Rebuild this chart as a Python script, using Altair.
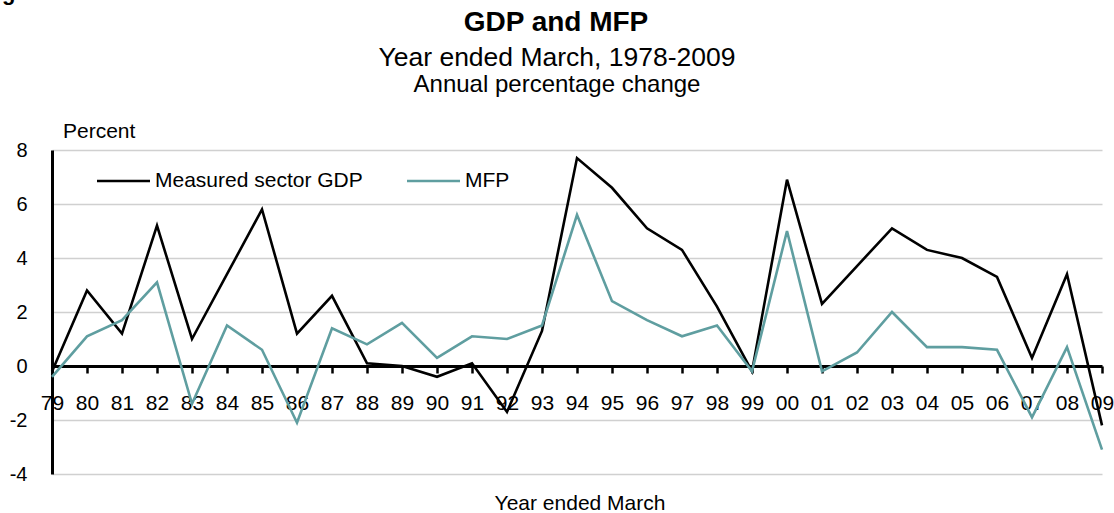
import altair as alt
import pandas as pd

FONT = "Liberation Sans"

# Year ended March, two-digit labels
year_labels = ["79", "80", "81", "82", "83", "84", "85", "86", "87", "88",
               "89", "90", "91", "92", "93", "94", "95", "96", "97", "98",
               "99", "00", "01", "02", "03", "04", "05", "06", "07", "08", "09"]

# Annual percentage change
gdp = [-0.2, 2.8, 1.2, 5.2, 1.0, 3.4, 5.8, 1.2, 2.6, 0.1,
       0.0, -0.4, 0.1, -1.7, 1.3, 7.7, 6.6, 5.1, 4.3, 2.2,
       -0.2, 6.9, 2.3, 3.7, 5.1, 4.3, 4.0, 3.3, 0.3, 3.4, -2.2]
mfp = [-0.4, 1.1, 1.7, 3.1, -1.4, 1.5, 0.6, -2.1, 1.4, 0.8,
       1.6, 0.3, 1.1, 1.0, 1.5, 5.6, 2.4, 1.7, 1.1, 1.5,
       -0.2, 5.0, -0.2, 0.5, 2.0, 0.7, 0.7, 0.6, -1.9, 0.7, -3.1]

series_names = ["Measured sector GDP", "MFP"]
series_colors = ["#000000", "#5f9ea0"]

title_text = "GDP and MFP"
subtitle_text = "Year ended March, 1978-2009"
subtitle2_text = "Annual percentage change"
y_unit_text = "Percent"
x_title_text = "Year ended March"

df = pd.DataFrame({
    "year": year_labels * 2,
    "series": [series_names[0]] * len(gdp) + [series_names[1]] * len(mfp),
    "value": gdp + mfp,
})

x_enc = alt.X(
    "year:O",
    sort=year_labels,
    scale=alt.Scale(type="point", padding=0),
    axis=alt.Axis(
        title=None, offset=-108, labelAngle=0, grid=False,
        domainColor="black", domainWidth=3,
        tickColor="black", tickWidth=2.5, tickSize=7,
        labelFont=FONT, labelFontSize=21, labelColor="black",
        labelPadding=19, labelOverlap=False,
    ),
)
y_enc = alt.Y(
    "value:Q",
    scale=alt.Scale(domain=[-4, 8], nice=False, zero=False),
    axis=alt.Axis(
        title=None, values=[-4, -2, 0, 2, 4, 6, 8],
        labelExpr="'' + datum.value",
        domainColor="black", domainWidth=3,
        ticks=False, tickSize=0, labelPadding=25,
        labelFont=FONT, labelFontSize=20, labelColor="black",
        gridColor="#d0d0d0", gridWidth=1.5,
    ),
)

lines = []
for name, color in zip(series_names, series_colors):
    lines.append(
        alt.Chart(df)
        .transform_filter(alt.datum.series == name)
        .mark_line(color=color, strokeWidth=2.6)
        .encode(x=x_enc, y=y_enc)
    )


def text_layer(txt, x, y, size, weight="normal", align="center", baseline="alphabetic"):
    return (
        alt.Chart(pd.DataFrame({"t": [txt]}))
        .mark_text(font=FONT, fontSize=size, fontWeight=weight, align=align,
                   baseline=baseline, color="black")
        .encode(text="t:N", x=alt.value(x), y=alt.value(y))
    )


titles = [
    text_layer("g", -50, -150, 22, weight="bold", align="left"),
    text_layer(title_text, 504, -119, 28, weight="bold"),
    text_layer(subtitle_text, 505, -84, 26.5),
    text_layer(subtitle2_text, 505, -58, 24),
    text_layer(y_unit_text, 11, -12, 21, align="left"),
    text_layer(x_title_text, 528, 360, 21),
]

# Legend: short stroke followed by the series name
legend_layers = []
legend_x = [45, 355]
for name, color, lx in zip(series_names, series_colors, legend_x):
    legend_layers.append(
        alt.Chart(pd.DataFrame({"s": [name]}))
        .mark_rule(color=color, strokeWidth=2.6)
        .encode(x=alt.value(lx), x2=alt.value(lx + 53), y=alt.value(31))
    )
    legend_layers.append(text_layer(name, lx + 58, 31, 21, align="left", baseline="middle"))

chart = (
    alt.layer(*lines, *legend_layers, *titles)
    .properties(
        width=1050, height=324,
        padding={"left": 52, "top": 150, "right": 12, "bottom": 39},
        autosize=alt.AutoSizeParams(type="none"),
        background="white",
    )
    .configure_view(stroke=None)
)

chart.save("out.html", embed_options={"renderer": "svg", "actions": False})
